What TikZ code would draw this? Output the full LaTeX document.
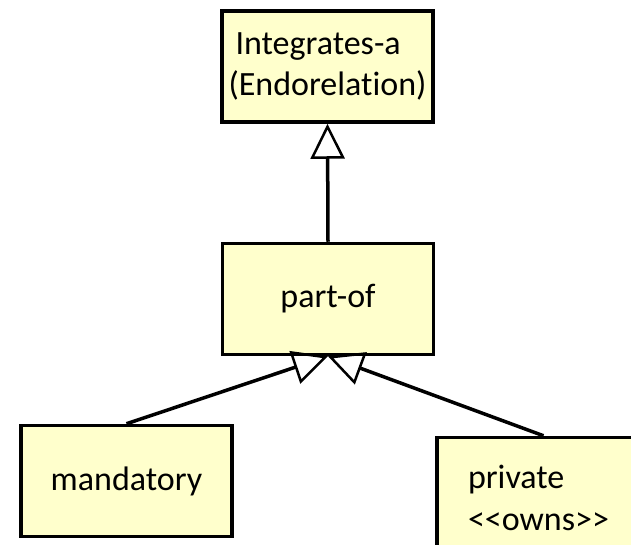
\documentclass[tikz,border=0pt]{standalone}
\usepackage{fontspec}
\setmainfont{Carlito}[Ligatures=NoCommon]
\usetikzlibrary{arrows.meta}
\definecolor{boxfill}{RGB}{255,255,204}
\tikzset{
  umlbox/.style={draw=black, fill=boxfill, line width=3.5pt, minimum width=211pt, minimum height=111pt, inner sep=0pt,
    font=\fontsize{34}{41.5}\selectfont},
  genline/.style={draw=black, line width=3.5pt, -{Triangle[open, length=35pt, width=34pt, line width=2.5pt]}}
}
\begin{document}
\begin{tikzpicture}[x=1pt, y=-1pt]
\useasboundingbox (0,0) rectangle (631,545);
\clip (0,0) rectangle (631,545);
\fill[white] (0,0) rectangle (631,545);
\node[umlbox, align=left] (top) at (327.5,66.5) {\hspace{7pt}Integrates-a\\(Endorelation)};
\node[umlbox] (partof) at (328,299) {part-of};
\node[umlbox] (mandatory) at (126.5,481) {mandatory};
\node[umlbox, align=left, minimum width=213pt, text depth=0pt] (private) at (543.5,493) {\rule{0pt}{33pt}private\\<{}<owns>{}>\hspace*{10pt}};
\draw[genline] (partof.north) -- (top.south);
\draw[genline] (mandatory.north) -- (partof.south);
\draw[genline] (private.north) -- (partof.south);
\end{tikzpicture}
\end{document}
